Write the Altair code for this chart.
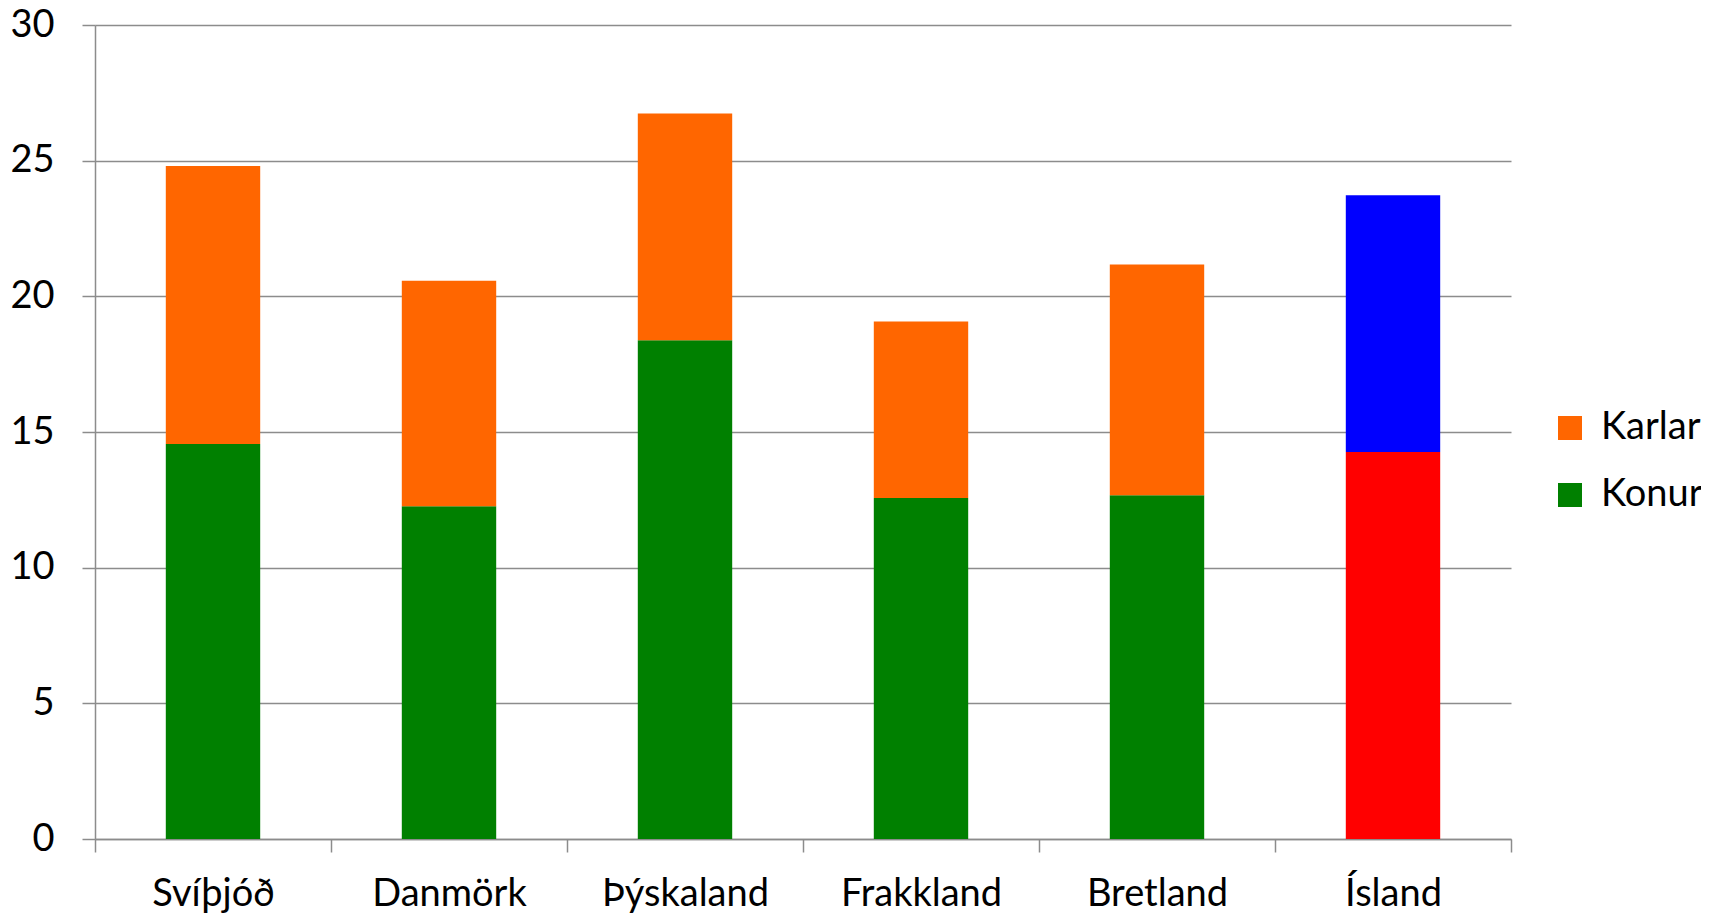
import altair as alt
import pandas as pd

countries = ["Svíþjóð", "Danmörk", "Þýskaland", "Frakkland", "Bretland", "Ísland"]
konur = [14.56, 12.26, 18.38, 12.57, 12.67, 14.26]
karlar = [10.24, 8.31, 8.36, 6.50, 8.50, 9.47]
y_ticks = [0, 5, 10, 15, 20, 25, 30]

color_domain = ["Karlar", "Konur", "Karlar (Ísland)", "Konur (Ísland)"]
color_range = ["#FF6600", "#008000", "#0000FF", "#FF0000"]

rows = []
for i, c in enumerate(countries):
    for g, vals, r in (("Konur", konur, 0), ("Karlar", karlar, 1)):
        litur = g if c != "Ísland" else g + " (Ísland)"
        rows.append({"land": c, "hopur": g, "gildi": vals[i], "litur": litur, "rod": r})
df = pd.DataFrame(rows)

W, H = 1416, 814
GRID = "#8c8c8c"
FONT = "Lato"
FS = 38

bars = alt.Chart(df).mark_bar(width=alt.RelativeBandSize(0.4)).encode(
    x=alt.X(
        "land:N",
        sort=countries,
        title=None,
        scale=alt.Scale(paddingInner=0, paddingOuter=0),
        axis=alt.Axis(
            labelAngle=0, tickBand="extent", tickSize=13, labelPadding=23,
            labelFontSize=FS, labelFont=FONT, labelColor="#000000",
            domainColor=GRID, tickColor=GRID, domainWidth=1.5, tickWidth=1.5,
            grid=False,
        ),
    ),
    y=alt.Y(
        "gildi:Q",
        stack="zero",
        title=None,
        scale=alt.Scale(domain=[0, 30], nice=False),
        axis=alt.Axis(
            values=y_ticks, tickSize=13, labelPadding=28, labelFontSize=FS,
            labelFont=FONT, labelColor="#000000", domainColor=GRID, tickColor=GRID,
            domainWidth=1.5, tickWidth=1.5, gridColor=GRID, gridWidth=1.5,
        ),
    ),
    color=alt.Color(
        "litur:N",
        scale=alt.Scale(domain=color_domain, range=color_range),
        legend=alt.Legend(
            values=["Karlar", "Konur"], title=None, orient="none",
            legendX=1456, legendY=384, symbolType="square", symbolSize=576,
            labelFontSize=FS, labelFont=FONT, labelColor="#000000",
            rowPadding=29, labelOffset=12, symbolStrokeWidth=0,
        ),
    ),
    order=alt.Order("rod:Q"),
)

chart = bars.properties(
    width=W, height=H,
    background="white",
    autosize=alt.AutoSizeParams(type="none"),
    padding={"left": 87, "top": 17, "right": 190, "bottom": 76},
).configure_view(stroke=None)

chart.save("out.html", embed_options={"renderer": "svg", "actions": False})
